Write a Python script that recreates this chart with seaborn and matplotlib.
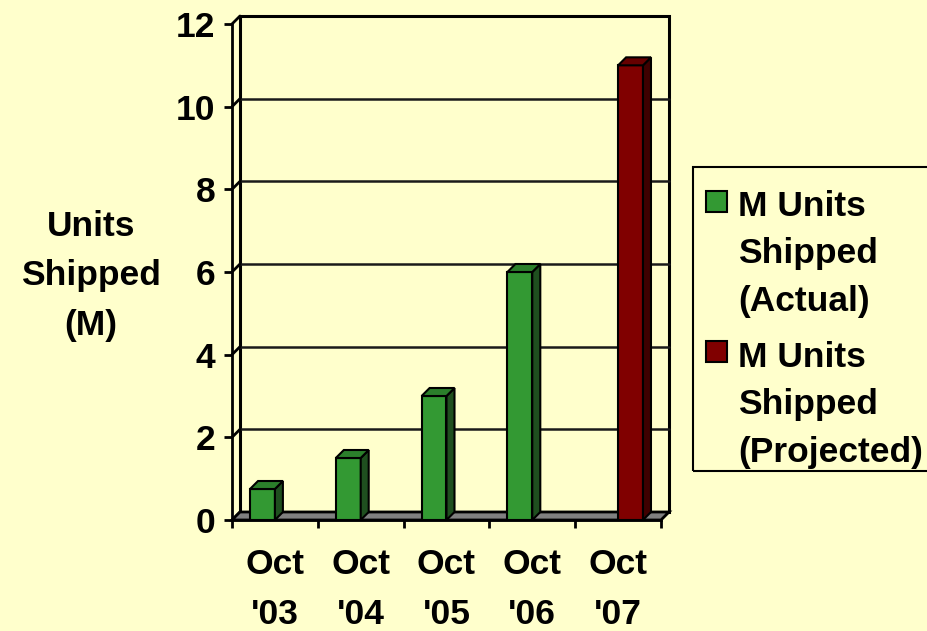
import matplotlib
matplotlib.use("Agg")
import matplotlib.pyplot as plt
from matplotlib.patches import Polygon, Rectangle
import pandas as pd
import seaborn as sns

# chart data
periods = ["Oct\n'03", "Oct\n'04", "Oct\n'05", "Oct\n'06", "Oct\n'07"]
actual = [0.75, 1.5, 3.0, 6.0, None]
projected = [None, None, None, None, 11.0]
series_names = ["M Units\nShipped\n(Actual)", "M Units\nShipped\n(Projected)"]
y_ticks = [0, 2, 4, 6, 8, 10, 12]

bg = "#FFFFCC"
# front, side, top colours
shades = {
    series_names[0]: ("#339933", "#1F4F1F", "#2B7F2B"),
    series_names[1]: ("#800000", "#3F0000", "#660000"),
}

df = pd.DataFrame({
    "period": periods * 2,
    "series": [series_names[0]] * 5 + [series_names[1]] * 5,
    "units": actual + projected,
}).dropna()

sns.set_style("white")
plt.rcParams["font.family"] = ["Liberation Sans", "DejaVu Sans"]
plt.rcParams["font.weight"] = "bold"
plt.rcParams["text.color"] = "black"
plt.rcParams["axes.labelcolor"] = "black"
plt.rcParams["xtick.color"] = "black"
plt.rcParams["ytick.color"] = "black"

FS = 25.5

W, H = 928, 631
fig = plt.figure(figsize=(W / 100, H / 100), dpi=100, facecolor=bg)
ax = fig.add_axes([232 / W, (H - 520) / H, 429 / W, 496 / H])
ax.set_facecolor("none")

sns.barplot(data=df, x="period", y="units", hue="series", order=periods,
            hue_order=series_names, palette={k: v[0] for k, v in shades.items()},
            width=0.58, gap=0, dodge=True, saturation=1, edgecolor="black",
            linewidth=1.5, legend=False, errorbar=None, ax=ax)
bars = [p for p in ax.patches if isinstance(p, Rectangle) and p.get_height() > 0]

ax.set_xlim(-0.5, 4.5)
ax.set_ylim(0, 12)

# depth offset of the pseudo-3D look (in data units)
dx = 8 / 85.8
dy = 8 / 41.33

frame = dict(color="black", lw=2, clip_on=False)

# back wall and gridlines
ax.add_patch(Rectangle((-0.5 + dx, dy), 5, 12, facecolor="none", edgecolor="black",
                       lw=2.2, zorder=0.5, clip_on=False))
for v in y_ticks:
    if 0 < v < 12:
        ax.plot([-0.5 + dx, 4.5 + dx], [v + dy, v + dy], color="#1a1a1a", lw=1.8,
                zorder=0.5, clip_on=False)
    ax.plot([-0.5, -0.5 + dx], [v, v + dy], zorder=0.6, **frame)

# floor
ax.add_patch(Polygon([(-0.5, 0), (4.5, 0), (4.5 + dx, dy), (-0.5 + dx, dy)],
                     closed=True, facecolor="#808080", edgecolor="black", lw=2,
                     zorder=0.8, clip_on=False))

# side and top faces of the bars
for bar in bars:
    x, w, h = bar.get_x(), bar.get_width(), bar.get_height()
    fc = matplotlib.colors.to_hex(bar.get_facecolor()).upper()
    side, top = "#1F4F1F", "#2B7F2B"
    for front_c, side_c, top_c in shades.values():
        if front_c.upper() == fc:
            side, top = side_c, top_c
    bar.set_zorder(3)
    ax.add_patch(Polygon([(x + w, 0), (x + w, h), (x + w + dx, h + dy), (x + w + dx, dy)],
                         closed=True, facecolor=side, edgecolor="black", lw=1.5, zorder=3))
    ax.add_patch(Polygon([(x, h), (x + w, h), (x + w + dx, h + dy), (x + dx, h + dy)],
                         closed=True, facecolor=top, edgecolor="black", lw=1.5, zorder=3))

# axes lines and ticks
for s in ["top", "right"]:
    ax.spines[s].set_visible(False)
for s in ["left", "bottom"]:
    ax.spines[s].set_linewidth(2)
    ax.spines[s].set_color("black")
    ax.spines[s].set_zorder(4)

ax.set_yticks(y_ticks)
ax.set_yticklabels([str(v) for v in y_ticks])
ax.tick_params(axis="y", length=5.8, width=2, direction="out", pad=6,
               labelsize=FS, left=True)
ax.set_xticks([i - 0.5 for i in range(6)])
ax.set_xticklabels([])
ax.set_xticks(range(5), minor=True)
ax.set_xticklabels(periods, minor=True, fontsize=FS, fontweight="bold", linespacing=1.65)
ax.tick_params(axis="x", which="major", length=5.8, width=2, direction="out", bottom=True)
ax.tick_params(axis="x", which="minor", length=0, pad=20)
for t in ax.get_yticklabels():
    t.set_fontweight("bold")

ax.set_xlabel("")
ax.set_ylabel("Units\nShipped\n(M)", rotation=0, fontsize=FS, fontweight="bold",
              ha="center", va="center", linespacing=1.62)
ax.yaxis.set_label_coords((91 - 232) / 429, (520 - 276) / 496)

# legend box (runs off the right edge like the original)
def fx(px):
    return px / W

def fy(py):
    return (H - py) / H

fig.add_artist(Rectangle((fx(693), fy(471)), fx(960) - fx(693), fy(167) - fy(471),
                         transform=fig.transFigure, facecolor="none",
                         edgecolor="black", lw=1.5))
for name, sq_top, txt_top in [(series_names[0], 191, 190), (series_names[1], 341, 341)]:
    fig.add_artist(Rectangle((fx(706), fy(sq_top + 21)), 21 / W, 21 / H,
                             transform=fig.transFigure, facecolor=shades[name][0],
                             edgecolor="black", lw=1.5))
    fig.text(fx(738), fy(txt_top), name, fontsize=FS, fontweight="bold",
             ha="left", va="top", linespacing=1.55)

fig.savefig("out.png", dpi=100, facecolor=bg)
